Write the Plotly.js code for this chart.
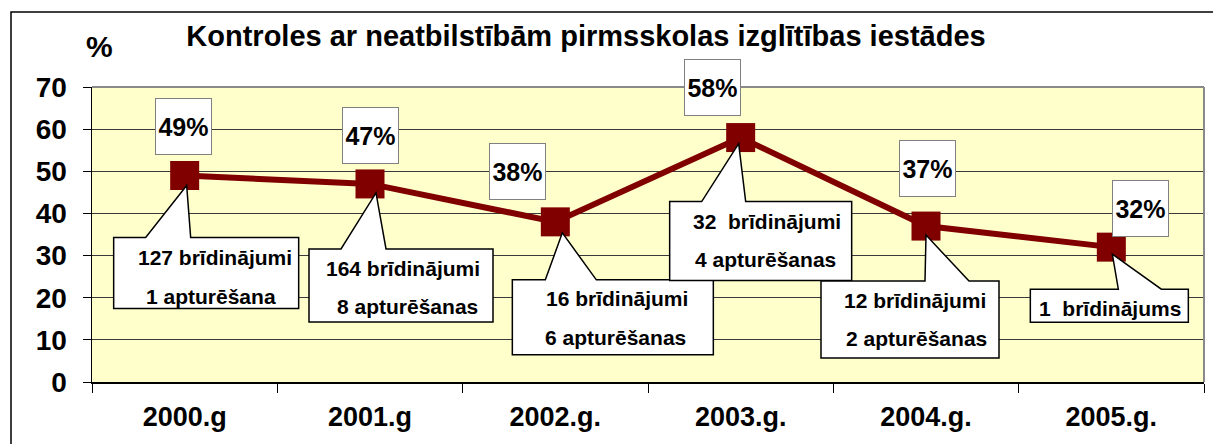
<!DOCTYPE html>
<html>
<head>
<meta charset="utf-8">
<script src="https://cdn.plot.ly/plotly-3.0.1.min.js"></script>
<style>html,body{margin:0;padding:0;background:#fff;}#chart{width:1213px;height:444px;}</style>
</head>
<body>
<div id="chart"></div>
<script>
// ---- data ----
const years = ["2000.g", "2001.g", "2002.g.", "2003.g.", "2004.g.", "2005.g."];
const percents = [49, 47, 38, 58, 37, 32];
const calloutLine1 = ["127 brīdinājumi", "164 brīdinājumi", "16 brīdinājumi", "32\u00a0 brīdinājumi", "12 brīdinājumi", "1\u00a0 brīdinājums"];
const calloutLine2 = ["1 apturēšana", "8 apturēšanas", "6 apturēšanas", "4 apturēšanas", "2 apturēšanas", ""];
const titleText = "Kontroles ar neatbilstībām pirmsskolas izglītības iestādes";

// ---- layout geometry (pixels) ----
const W = 1213, H = 444;
const M = {l: 92, r: 9, t: 87, b: 62};
const plotW = W - M.l - M.r, plotH = H - M.t - M.b;
const yMax = 70;
const pxX = plotW / years.length, pxY = plotH / yMax;

// percent label box offsets relative to point (px, screen coords: +dy = down)
const pctOff = [[-1, -49], [0, -48], [-38, -50], [-28, -50], [1, -58], [29, -39]];
// callout geometry offsets relative to point: [L, R, T, B, base1, base2, tipX, tipY]
const callGeom = [
  [-71, 114, 62, 133, -39, 6, 2, 10],
  [-61, 123, 65, 138, -29, 16, 6, 9],
  [-43, 158, 58, 133, -10, 41, 7, 11],
  [-71, 111, 64, 143, -39, 5, -2, 6],
  [-105, 73, 55, 132, -1, 43, 0, 9],
  [-81, 77, 42, 75, 7, 50, 1, 7]
];
// callout text line centres relative to point
const callText = [
  [[30, 82], [26, 121]],
  [[33, 85], [37, 123]],
  [[62, 77], [60, 116]],
  [[26, 84], [25, 122]],
  [[-11, 74], [-10, 112]],
  [[-1, 61], null]
];

const SANS = '"Liberation Sans", Arial, sans-serif';
const DARK = '#800000';

const xs = years.map((_, i) => i);

function dataX(i, dx) { return i + dx / pxX; }
function dataY(v, dy) { return v - dy / pxY; }

const shapes = [];
const annotations = [];

// outer frame (paper coords)
shapes.push({
  type: 'rect', xref: 'paper', yref: 'paper',
  x0: (11 - M.l) / plotW, x1: (1225 - M.l) / plotW,
  y0: (M.t + plotH - 470) / plotH, y1: (M.t + plotH - 12) / plotH,
  line: {color: '#000', width: 1.5}, fillcolor: 'rgba(0,0,0,0)', layer: 'above'
});
// grey top/right border of plot area
shapes.push({type: 'line', xref: 'paper', yref: 'paper', x0: 0, x1: 1, y0: 1, y1: 1, line: {color: '#8a8a8a', width: 2}, layer: 'above'});
shapes.push({type: 'line', xref: 'paper', yref: 'paper', x0: 1, x1: 1, y0: 0, y1: 1, line: {color: '#8a8a8a', width: 2}, layer: 'above'});

// callouts
xs.forEach((i) => {
  const v = percents[i];
  const [L, R, T, B, b1, b2, tx, ty] = callGeom[i];
  const p = (dx, dy) => dataX(i, dx) + ',' + dataY(v, dy);
  const path = 'M' + p(L, T) + ' L' + p(b1, T) + ' L' + p(tx, ty) + ' L' + p(b2, T) +
    ' L' + p(R, T) + ' L' + p(R, B) + ' L' + p(L, B) + ' Z';
  shapes.push({type: 'path', xref: 'x', yref: 'y', path: path, fillcolor: '#fff',
    line: {color: '#000', width: 1.5}, layer: 'above'});
  const lines = [calloutLine1[i], calloutLine2[i]];
  lines.forEach((t, k) => {
    const pos = callText[i][k];
    if (!t || !pos) return;
    annotations.push({
      x: i, y: v, xref: 'x', yref: 'y', text: t, showarrow: false,
      xshift: pos[0], yshift: -pos[1], xanchor: 'center', yanchor: 'middle',
      font: {family: SANS, size: 21, color: '#000', weight: 'bold'}
    });
  });
});

// percent labels
xs.forEach((i) => {
  const v = percents[i];
  annotations.push({
    x: i, y: v, xref: 'x', yref: 'y', text: v + '%', showarrow: false,
    xshift: pctOff[i][0], yshift: -pctOff[i][1], xanchor: 'center', yanchor: 'middle',
    width: 55, height: 55, borderpad: 0, bgcolor: '#fff', bordercolor: '#808080', borderwidth: 1,
    font: {family: SANS, size: 25, color: '#000', weight: 'bold'}
  });
});

// % axis label
annotations.push({
  xref: 'paper', yref: 'paper', x: (99.5 - M.l) / plotW, y: (M.t + plotH - 47) / plotH,
  text: '%', showarrow: false, xanchor: 'center', yanchor: 'middle',
  font: {family: SANS, size: 30, color: '#000', weight: 'bold'}
});

const trace = {
  x: xs, y: percents, type: 'scatter', mode: 'lines+markers',
  line: {color: DARK, width: 6},
  marker: {symbol: 'square', size: 29, color: DARK},
  hoverinfo: 'skip', showlegend: false
};

const layout = {
  width: W, height: H,
  margin: M,
  paper_bgcolor: '#fff',
  plot_bgcolor: '#ffffcc',
  showlegend: false,
  title: {
    text: titleText, xref: 'container', yref: 'container',
    x: 586 / W, xanchor: 'center', y: 1 - 36 / H, yanchor: 'middle',
    font: {family: SANS, size: 29, color: '#000', weight: 'bold'}
  },
  xaxis: {
    type: 'linear', range: [-0.5, years.length - 0.5],
    tickvals: xs, ticktext: years,
    ticks: 'outside', ticklen: 10, tickcolor: 'rgba(0,0,0,0)',
    minor: {tick0: -0.5, dtick: 1, ticks: 'outside', ticklen: 9, tickcolor: '#000', tickwidth: 1, showgrid: false},
    showgrid: false, zeroline: false,
    showline: true, linecolor: '#000', linewidth: 1.5,
    tickfont: {family: SANS, size: 27, color: '#000', weight: 'bold'},
    fixedrange: true
  },
  yaxis: {
    range: [0, yMax], dtick: 10, tick0: 0,
    ticks: 'outside', ticklen: 8, tickcolor: '#000', tickwidth: 1,
    ticklabelstandoff: 10,
    showgrid: true, gridcolor: '#3a3a3a', gridwidth: 1,
    zeroline: false,
    showline: true, linecolor: '#000', linewidth: 1.5,
    tickfont: {family: SANS, size: 28, color: '#000', weight: 'bold'},
    fixedrange: true
  },
  shapes: shapes,
  annotations: annotations
};

Plotly.newPlot('chart', [trace], layout, {displayModeBar: false, staticPlot: true});
</script>
</body>
</html>
